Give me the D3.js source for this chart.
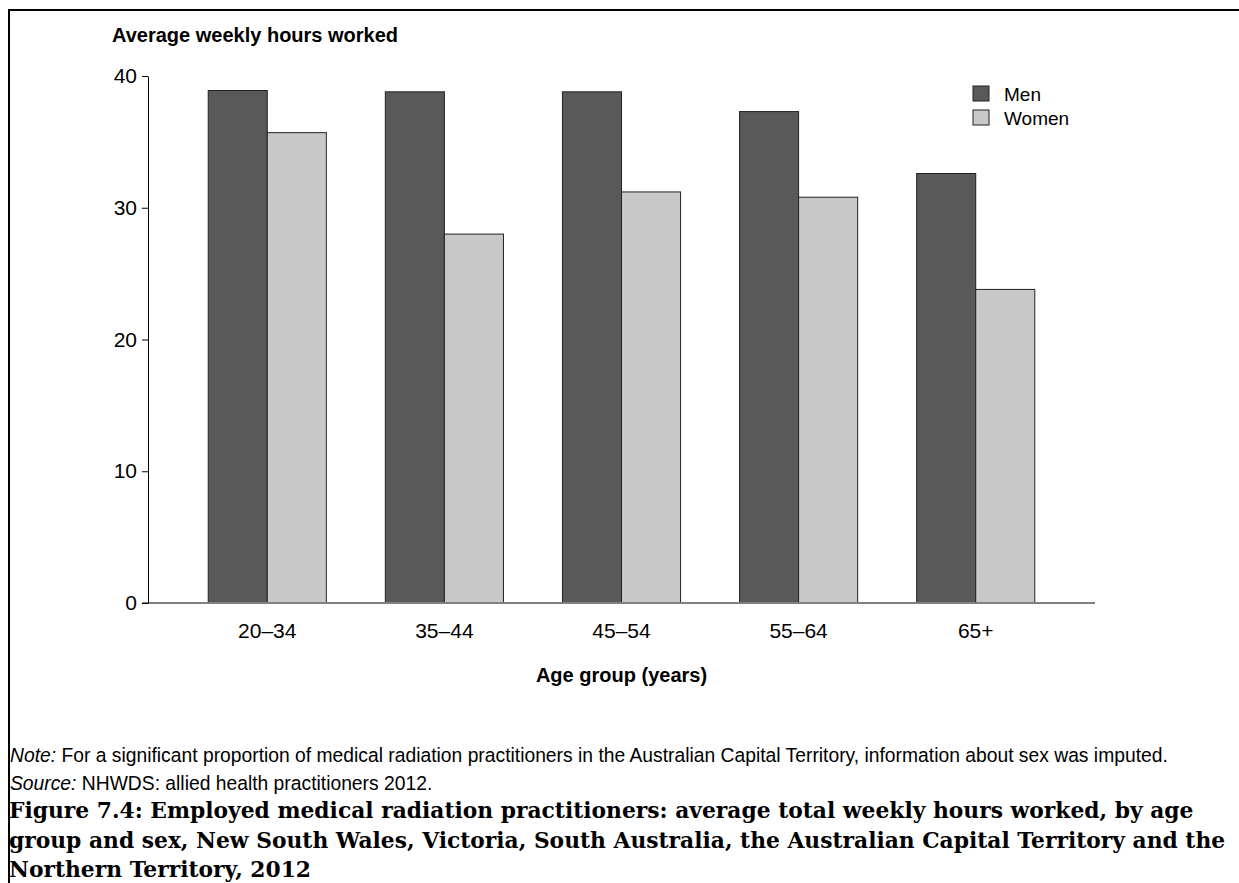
<!DOCTYPE html>
<html>
<head>
<meta charset="utf-8">
<script src="https://cdn.jsdelivr.net/npm/d3@7"></script>
<style>
  html, body { margin: 0; padding: 0; background: #fff; }
  svg { display: block; }
  text { font-family: "Liberation Sans", Arial, sans-serif; fill: #000; }
</style>
</head>
<body>
<svg id="chart" width="1239" height="883"></svg>
<script>
const categories = ["20–34", "35–44", "45–54", "55–64", "65+"];
const seriesNames = ["Men", "Women"];
const menValues = [38.9, 38.8, 38.8, 37.3, 32.6];
const womenValues = [35.7, 28.0, 31.2, 30.8, 23.8];
const yTicks = [0, 10, 20, 30, 40];
const colors = ["#595959", "#c8c8c8"];

const data = categories.map((c, i) => ({ cat: c, values: [menValues[i], womenValues[i]] }));

const svg = d3.select("#chart");

// frame
svg.append("path")
  .attr("d", "M9,884 L9,10 L1240,10")
  .attr("fill", "none").attr("stroke", "#000").attr("stroke-width", 2);

const plotLeft = 148, plotRight = 1095, plotTop = 76, plotBottom = 603;

const x = d3.scaleBand().domain(categories).range([plotLeft, plotRight])
  .paddingInner(0.333).paddingOuter(0.34);
const xs = d3.scaleBand().domain(seriesNames).range([0, x.bandwidth()]).padding(0);
const y = d3.scaleLinear().domain([0, 40]).range([plotBottom, plotTop]);

// y title
svg.append("text").attr("x", 112).attr("y", 42)
  .style("font-weight", "bold").style("font-size", "20px")
  .text("Average weekly hours worked");

// bars
const g = svg.append("g");
g.selectAll("g.grp").data(data).join("g")
  .attr("class", "grp")
  .attr("transform", d => `translate(${x(d.cat)},0)`)
  .selectAll("rect").data(d => d.values.map((v, i) => ({ v, s: seriesNames[i], i })))
  .join("rect")
  .attr("x", d => xs(d.s))
  .attr("y", d => y(d.v))
  .attr("width", xs.bandwidth())
  .attr("height", d => y(0) - y(d.v))
  .attr("fill", d => colors[d.i])
  .attr("stroke", "#222").attr("stroke-width", 1);

// baseline
svg.append("line").attr("x1", plotLeft - 6).attr("x2", plotRight)
  .attr("y1", y(0)).attr("y2", y(0))
  .attr("stroke", "#808080").attr("stroke-width", 2);

// y axis
const yAxis = svg.append("g").attr("transform", `translate(${plotLeft},0)`)
  .call(d3.axisLeft(y).tickValues(yTicks).tickSize(6).tickSizeOuter(0).tickPadding(5));
yAxis.select(".domain").attr("stroke", "#000");
yAxis.selectAll(".tick line").attr("stroke", "#000");
yAxis.selectAll(".tick text").style("font-size", "21px").style("font-family", "Liberation Sans, Arial, sans-serif").attr("fill", "#000");

// x axis labels
const xAxis = svg.append("g").attr("transform", `translate(0,${plotBottom})`)
  .call(d3.axisBottom(x).tickSize(0).tickPadding(20));
xAxis.select(".domain").remove();
xAxis.selectAll(".tick text").style("font-size", "21px").style("font-family", "Liberation Sans, Arial, sans-serif").attr("fill", "#000");

// x title
svg.append("text").attr("x", (plotLeft + plotRight) / 2).attr("y", 682)
  .attr("text-anchor", "middle")
  .style("font-weight", "bold").style("font-size", "20px")
  .text("Age group (years)");

// legend
const lg = svg.append("g").attr("transform", "translate(973,86)");
seriesNames.forEach((s, i) => {
  lg.append("rect").attr("x", 0).attr("y", i * 24).attr("width", 16).attr("height", 15)
    .attr("fill", colors[i]).attr("stroke", "#222").attr("stroke-width", 1);
  lg.append("text").attr("x", 31).attr("y", i * 24 + 15).style("font-size", "19px").text(s);
});

// notes
const note = svg.append("text").attr("x", 10).attr("y", 762).style("font-size", "19.3px");
note.append("tspan").style("font-style", "italic").text("Note:");
note.append("tspan").text(" For a significant proportion of medical radiation practitioners in the Australian Capital Territory, information about sex was imputed.");

const src = svg.append("text").attr("x", 10).attr("y", 790).style("font-size", "19.3px");
src.append("tspan").style("font-style", "italic").text("Source:");
src.append("tspan").text(" NHWDS: allied health practitioners 2012.");

// caption
const capLines = [
  "Figure 7.4: Employed medical radiation practitioners: average total weekly hours worked, by age",
  "group and sex, New South Wales, Victoria, South Australia, the Australian Capital Territory and the",
  "Northern Territory, 2012"
];
capLines.forEach((t, i) => {
  svg.append("text").attr("x", 9).attr("y", 818 + i * 29.5)
    .style("font-family", "'DejaVu Serif', 'Liberation Serif', serif")
    .style("font-weight", "bold").style("font-size", "21.8px")
    .text(t);
});
</script>
</body>
</html>
